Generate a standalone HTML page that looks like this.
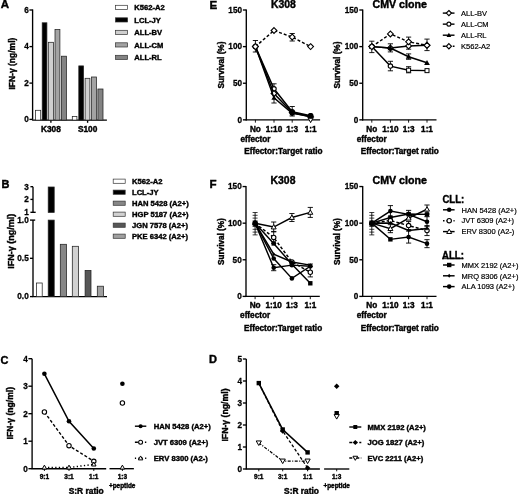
<!DOCTYPE html>
<html><head><meta charset="utf-8"><style>
html,body{margin:0;padding:0;background:#fff;}
body{width:520px;height:494px;overflow:hidden;}
svg{display:block;font-family:"Liberation Sans",sans-serif;filter:blur(0.3px);}
</style></head><body>
<svg width="520" height="494" viewBox="0 0 520 494">
<rect width="520" height="494" fill="#fff"/>
<text x="0.80" y="8.40" font-size="11.5" font-weight="bold" text-anchor="start" stroke="#000" stroke-width="0.4" >A</text>
<line x1="32.60" y1="9.40" x2="32.60" y2="119.80" stroke="#000" stroke-width="1.35" />
<line x1="29.40" y1="10.00" x2="32.60" y2="10.00" stroke="#000" stroke-width="1.35" />
<text transform="translate(28.70,12.85) scale(0.92,1)" font-size="8.9" font-weight="bold" text-anchor="end" stroke="#000" stroke-width="0.3" >6</text>
<line x1="29.40" y1="46.60" x2="32.60" y2="46.60" stroke="#000" stroke-width="1.35" />
<text transform="translate(28.70,49.45) scale(0.92,1)" font-size="8.9" font-weight="bold" text-anchor="end" stroke="#000" stroke-width="0.3" >4</text>
<line x1="29.40" y1="83.10" x2="32.60" y2="83.10" stroke="#000" stroke-width="1.35" />
<text transform="translate(28.70,85.95) scale(0.92,1)" font-size="8.9" font-weight="bold" text-anchor="end" stroke="#000" stroke-width="0.3" >2</text>
<line x1="29.40" y1="119.40" x2="32.60" y2="119.40" stroke="#000" stroke-width="1.35" />
<text transform="translate(28.70,122.25) scale(0.92,1)" font-size="8.9" font-weight="bold" text-anchor="end" stroke="#000" stroke-width="0.3" >0</text>
<line x1="32.10" y1="120.10" x2="106.90" y2="120.10" stroke="#000" stroke-width="1.35" />
<line x1="50.90" y1="120.10" x2="50.90" y2="122.80" stroke="#000" stroke-width="1.35" />
<text x="50.90" y="131.90" font-size="8.3" font-weight="bold" text-anchor="middle" stroke="#000" stroke-width="0.4" >K308</text>
<line x1="87.60" y1="120.10" x2="87.60" y2="122.80" stroke="#000" stroke-width="1.35" />
<text x="87.60" y="131.90" font-size="8.3" font-weight="bold" text-anchor="middle" stroke="#000" stroke-width="0.4" >S100</text>
<rect x="35.60" y="110.30" width="5.10" height="9.80" fill="#ffffff" stroke="#222" stroke-width="0.75"/>
<rect x="42.20" y="22.80" width="4.70" height="97.30" fill="#000000" stroke="#222" stroke-width="0.75"/>
<rect x="48.30" y="42.30" width="5.20" height="77.80" fill="#cfcfcf" stroke="#222" stroke-width="0.75"/>
<rect x="55.00" y="29.50" width="4.90" height="90.60" fill="#a3a3a3" stroke="#222" stroke-width="0.75"/>
<rect x="61.40" y="56.20" width="5.00" height="63.90" fill="#838383" stroke="#222" stroke-width="0.75"/>
<rect x="72.30" y="116.40" width="4.60" height="3.70" fill="#ffffff" stroke="#222" stroke-width="0.75"/>
<rect x="78.80" y="65.90" width="4.70" height="54.20" fill="#000000" stroke="#222" stroke-width="0.75"/>
<rect x="85.10" y="78.30" width="4.80" height="41.80" fill="#cfcfcf" stroke="#222" stroke-width="0.75"/>
<rect x="91.60" y="77.00" width="4.80" height="43.10" fill="#a3a3a3" stroke="#222" stroke-width="0.75"/>
<rect x="97.90" y="89.00" width="5.10" height="31.10" fill="#838383" stroke="#222" stroke-width="0.75"/>
<text transform="translate(14.50,63.60) rotate(-90)" font-size="8.5" font-weight="bold" text-anchor="middle" stroke="#000" stroke-width="0.4">IFN-γ (ng/ml)</text>
<rect x="115.50" y="5.30" width="12.10" height="4.20" fill="#ffffff" stroke="#333" stroke-width="0.7"/>
<text x="134.30" y="10.30" font-size="7.6" font-weight="bold" text-anchor="start" stroke="#000" stroke-width="0.4" >K562-A2</text>
<rect x="115.50" y="17.80" width="12.10" height="4.20" fill="#000000" stroke="#333" stroke-width="0.7"/>
<text x="134.30" y="22.80" font-size="7.6" font-weight="bold" text-anchor="start" stroke="#000" stroke-width="0.4" >LCL-JY</text>
<rect x="115.50" y="30.30" width="12.10" height="4.20" fill="#cfcfcf" stroke="#333" stroke-width="0.7"/>
<text x="134.30" y="35.30" font-size="7.6" font-weight="bold" text-anchor="start" stroke="#000" stroke-width="0.4" >ALL-BV</text>
<rect x="115.50" y="42.80" width="12.10" height="4.20" fill="#a3a3a3" stroke="#333" stroke-width="0.7"/>
<text x="134.30" y="47.80" font-size="7.6" font-weight="bold" text-anchor="start" stroke="#000" stroke-width="0.4" >ALL-CM</text>
<rect x="115.50" y="55.30" width="12.10" height="4.20" fill="#838383" stroke="#333" stroke-width="0.7"/>
<text x="134.30" y="60.30" font-size="7.6" font-weight="bold" text-anchor="start" stroke="#000" stroke-width="0.4" >ALL-RL</text>
<text x="1.60" y="187.60" font-size="11" font-weight="bold" text-anchor="start" stroke="#000" stroke-width="0.4" >B</text>
<line x1="33.00" y1="186.70" x2="33.00" y2="212.40" stroke="#000" stroke-width="1.35" />
<line x1="30.40" y1="186.70" x2="33.00" y2="186.70" stroke="#000" stroke-width="1.35" />
<text transform="translate(28.70,189.55) scale(0.92,1)" font-size="8.9" font-weight="bold" text-anchor="end" stroke="#000" stroke-width="0.3" >3</text>
<line x1="30.40" y1="199.40" x2="33.00" y2="199.40" stroke="#000" stroke-width="1.35" />
<text transform="translate(28.70,202.25) scale(0.92,1)" font-size="8.9" font-weight="bold" text-anchor="end" stroke="#000" stroke-width="0.3" >2</text>
<line x1="30.40" y1="212.30" x2="33.00" y2="212.30" stroke="#000" stroke-width="1.35" />
<text transform="translate(28.70,215.15) scale(0.92,1)" font-size="8.9" font-weight="bold" text-anchor="end" stroke="#000" stroke-width="0.3" >1</text>
<line x1="33.00" y1="212.30" x2="35.70" y2="212.30" stroke="#000" stroke-width="1.35" />
<line x1="33.00" y1="220.10" x2="33.00" y2="296.90" stroke="#000" stroke-width="1.35" />
<line x1="30.00" y1="220.10" x2="33.00" y2="220.10" stroke="#000" stroke-width="1.35" />
<text transform="translate(28.70,222.95) scale(0.92,1)" font-size="8.9" font-weight="bold" text-anchor="end" stroke="#000" stroke-width="0.3" >1.0</text>
<line x1="30.00" y1="258.30" x2="33.00" y2="258.30" stroke="#000" stroke-width="1.35" />
<text transform="translate(28.70,261.15) scale(0.92,1)" font-size="8.9" font-weight="bold" text-anchor="end" stroke="#000" stroke-width="0.3" >0.5</text>
<line x1="30.00" y1="296.60" x2="33.00" y2="296.60" stroke="#000" stroke-width="1.35" />
<text transform="translate(28.70,299.45) scale(0.92,1)" font-size="8.9" font-weight="bold" text-anchor="end" stroke="#000" stroke-width="0.3" >0.0</text>
<line x1="33.00" y1="220.10" x2="35.20" y2="220.10" stroke="#000" stroke-width="1.35" />
<line x1="32.50" y1="296.60" x2="107.00" y2="296.60" stroke="#000" stroke-width="1.35" />
<rect x="36.60" y="283.00" width="5.60" height="13.60" fill="#ffffff" stroke="#222" stroke-width="0.75"/>
<rect x="48.20" y="187.00" width="6.00" height="25.40" fill="#000000" stroke="#222" stroke-width="0.75"/>
<rect x="48.20" y="220.10" width="6.00" height="76.50" fill="#000000" stroke="#222" stroke-width="0.75"/>
<rect x="60.30" y="244.30" width="6.20" height="52.30" fill="#878787" stroke="#222" stroke-width="0.75"/>
<rect x="72.30" y="246.30" width="6.30" height="50.30" fill="#d2d2d2" stroke="#222" stroke-width="0.75"/>
<rect x="85.10" y="270.40" width="5.90" height="26.20" fill="#575757" stroke="#222" stroke-width="0.75"/>
<rect x="97.30" y="286.20" width="6.30" height="10.40" fill="#a0a0a0" stroke="#222" stroke-width="0.75"/>
<text transform="translate(14.20,241.30) rotate(-90)" font-size="9.0" font-weight="bold" text-anchor="middle" stroke="#000" stroke-width="0.4">IFN-γ (ng/ml)</text>
<rect x="113.20" y="179.10" width="12.00" height="4.20" fill="#ffffff" stroke="#333" stroke-width="0.7"/>
<text x="132.00" y="184.00" font-size="7.6" font-weight="bold" text-anchor="start" stroke="#000" stroke-width="0.4" >K562-A2</text>
<rect x="113.20" y="190.10" width="12.00" height="4.20" fill="#000000" stroke="#333" stroke-width="0.7"/>
<text x="132.00" y="195.00" font-size="7.6" font-weight="bold" text-anchor="start" stroke="#000" stroke-width="0.4" >LCL-JY</text>
<rect x="113.20" y="201.10" width="12.00" height="4.20" fill="#878787" stroke="#333" stroke-width="0.7"/>
<text x="132.00" y="206.00" font-size="7.6" font-weight="bold" text-anchor="start" stroke="#000" stroke-width="0.4" >HAN 5428 (A2+)</text>
<rect x="113.20" y="212.10" width="12.00" height="4.20" fill="#d2d2d2" stroke="#333" stroke-width="0.7"/>
<text x="132.00" y="217.00" font-size="7.6" font-weight="bold" text-anchor="start" stroke="#000" stroke-width="0.4" >HGP 5187 (A2+)</text>
<rect x="113.20" y="223.10" width="12.00" height="4.20" fill="#575757" stroke="#333" stroke-width="0.7"/>
<text x="132.00" y="228.00" font-size="7.6" font-weight="bold" text-anchor="start" stroke="#000" stroke-width="0.4" >JGN 7578 (A2+)</text>
<rect x="113.20" y="234.10" width="12.00" height="4.20" fill="#a0a0a0" stroke="#333" stroke-width="0.7"/>
<text x="132.00" y="239.00" font-size="7.6" font-weight="bold" text-anchor="start" stroke="#000" stroke-width="0.4" >PKE 6342 (A2+)</text>
<text x="0.60" y="363.80" font-size="11" font-weight="bold" text-anchor="start" stroke="#000" stroke-width="0.4" >C</text>
<line x1="32.10" y1="358.70" x2="32.10" y2="469.00" stroke="#000" stroke-width="1.35" />
<line x1="28.40" y1="468.70" x2="32.10" y2="468.70" stroke="#000" stroke-width="1.35" />
<text transform="translate(27.80,471.55) scale(0.92,1)" font-size="8.9" font-weight="bold" text-anchor="end" stroke="#000" stroke-width="0.3" >0</text>
<line x1="28.40" y1="441.20" x2="32.10" y2="441.20" stroke="#000" stroke-width="1.35" />
<text transform="translate(27.80,444.05) scale(0.92,1)" font-size="8.9" font-weight="bold" text-anchor="end" stroke="#000" stroke-width="0.3" >1</text>
<line x1="28.40" y1="413.70" x2="32.10" y2="413.70" stroke="#000" stroke-width="1.35" />
<text transform="translate(27.80,416.55) scale(0.92,1)" font-size="8.9" font-weight="bold" text-anchor="end" stroke="#000" stroke-width="0.3" >2</text>
<line x1="28.40" y1="386.20" x2="32.10" y2="386.20" stroke="#000" stroke-width="1.35" />
<text transform="translate(27.80,389.05) scale(0.92,1)" font-size="8.9" font-weight="bold" text-anchor="end" stroke="#000" stroke-width="0.3" >3</text>
<line x1="28.40" y1="358.70" x2="32.10" y2="358.70" stroke="#000" stroke-width="1.35" />
<text transform="translate(27.80,361.55) scale(0.92,1)" font-size="8.9" font-weight="bold" text-anchor="end" stroke="#000" stroke-width="0.3" >4</text>
<line x1="31.60" y1="468.70" x2="106.20" y2="468.70" stroke="#000" stroke-width="1.35" />
<line x1="109.50" y1="468.70" x2="133.90" y2="468.70" stroke="#000" stroke-width="1.35" />
<line x1="44.40" y1="468.70" x2="44.40" y2="471.00" stroke="#000" stroke-width="0.9" />
<line x1="69.00" y1="468.70" x2="69.00" y2="471.00" stroke="#000" stroke-width="0.9" />
<line x1="93.80" y1="468.70" x2="93.80" y2="471.00" stroke="#000" stroke-width="0.9" />
<line x1="122.40" y1="468.70" x2="122.40" y2="471.00" stroke="#000" stroke-width="0.9" />
<text x="44.40" y="479.30" font-size="6.5" font-weight="bold" text-anchor="middle" stroke="#000" stroke-width="0.4" >9:1</text>
<text x="69.00" y="479.30" font-size="6.5" font-weight="bold" text-anchor="middle" stroke="#000" stroke-width="0.4" >3:1</text>
<text x="93.80" y="479.30" font-size="6.5" font-weight="bold" text-anchor="middle" stroke="#000" stroke-width="0.4" >1:1</text>
<text x="122.40" y="479.30" font-size="6.5" font-weight="bold" text-anchor="middle" stroke="#000" stroke-width="0.4" >1:3</text>
<text x="122.20" y="487.80" font-size="6.4" font-weight="bold" text-anchor="middle" stroke="#000" stroke-width="0.4" >+peptide</text>
<text x="86.20" y="494.30" font-size="8.4" font-weight="bold" text-anchor="middle" stroke="#000" stroke-width="0.4" >S:R ratio</text>
<text transform="translate(12.70,413.20) rotate(-90)" font-size="8.6" font-weight="bold" text-anchor="middle" stroke="#000" stroke-width="0.4">IFN-γ (ng/ml)</text>
<polyline points="44.40,373.80 69.00,421.30 93.80,448.50" fill="none" stroke="#000" stroke-width="1.5"/>
<polyline points="44.40,412.00 69.00,445.70 93.80,461.30" fill="none" stroke="#000" stroke-width="1.4" stroke-dasharray="3,2"/>
<polyline points="44.40,467.60 69.00,467.60 93.80,464.30" fill="none" stroke="#000" stroke-width="1.5" stroke-dasharray="1.3,2.3"/>
<circle cx="44.40" cy="373.80" r="2.30" fill="#000"/>
<circle cx="69.00" cy="421.30" r="2.30" fill="#000"/>
<circle cx="93.80" cy="448.50" r="2.30" fill="#000"/>
<circle cx="122.40" cy="383.80" r="2.30" fill="#000"/>
<circle cx="44.40" cy="412.00" r="2.20" fill="#fff" stroke="#000" stroke-width="1.1"/>
<circle cx="69.00" cy="445.70" r="2.20" fill="#fff" stroke="#000" stroke-width="1.1"/>
<circle cx="93.80" cy="461.30" r="2.20" fill="#fff" stroke="#000" stroke-width="1.1"/>
<circle cx="122.40" cy="403.00" r="2.20" fill="#fff" stroke="#000" stroke-width="1.1"/>
<polygon points="44.40,465.15 46.65,469.09 42.15,469.09" fill="#fff" stroke="#000" stroke-width="1"/>
<polygon points="69.00,465.15 71.25,469.09 66.75,469.09" fill="#fff" stroke="#000" stroke-width="1"/>
<polygon points="93.80,462.05 96.05,465.99 91.55,465.99" fill="#fff" stroke="#000" stroke-width="1"/>
<polygon points="122.40,465.15 124.65,469.09 120.15,469.09" fill="#fff" stroke="#000" stroke-width="1"/>
<polyline points="134.90,426.20 146.30,426.20" fill="none" stroke="#000" stroke-width="1.4"/>
<circle cx="140.60" cy="426.20" r="2.07" fill="#000"/>
<text x="153.70" y="428.95" font-size="7.65" font-weight="bold" text-anchor="start" stroke="#000" stroke-width="0.4" >HAN 5428 (A2+)</text>
<polyline points="134.90,442.20 146.30,442.20" fill="none" stroke="#000" stroke-width="1.4" stroke-dasharray="3,2"/>
<circle cx="140.60" cy="442.20" r="1.98" fill="#fff" stroke="#000" stroke-width="1.1"/>
<text x="153.70" y="444.95" font-size="7.65" font-weight="bold" text-anchor="start" stroke="#000" stroke-width="0.4" >JVT 6309 (A2+)</text>
<polyline points="134.90,458.20 146.30,458.20" fill="none" stroke="#000" stroke-width="1.4" stroke-dasharray="1.2,2.2"/>
<polygon points="140.60,455.95 142.85,459.89 138.35,459.89" fill="#fff" stroke="#000" stroke-width="1"/>
<text x="153.70" y="460.95" font-size="7.65" font-weight="bold" text-anchor="start" stroke="#000" stroke-width="0.4" >ERV 8300 (A2-)</text>
<text x="209.00" y="363.30" font-size="11" font-weight="bold" text-anchor="start" stroke="#000" stroke-width="0.4" >D</text>
<line x1="246.30" y1="359.00" x2="246.30" y2="469.20" stroke="#000" stroke-width="1.35" />
<line x1="242.90" y1="469.00" x2="246.30" y2="469.00" stroke="#000" stroke-width="1.35" />
<text transform="translate(242.10,471.85) scale(0.92,1)" font-size="8.9" font-weight="bold" text-anchor="end" stroke="#000" stroke-width="0.3" >0</text>
<line x1="242.90" y1="447.00" x2="246.30" y2="447.00" stroke="#000" stroke-width="1.35" />
<text transform="translate(242.10,449.85) scale(0.92,1)" font-size="8.9" font-weight="bold" text-anchor="end" stroke="#000" stroke-width="0.3" >1</text>
<line x1="242.90" y1="425.00" x2="246.30" y2="425.00" stroke="#000" stroke-width="1.35" />
<text transform="translate(242.10,427.85) scale(0.92,1)" font-size="8.9" font-weight="bold" text-anchor="end" stroke="#000" stroke-width="0.3" >2</text>
<line x1="242.90" y1="403.00" x2="246.30" y2="403.00" stroke="#000" stroke-width="1.35" />
<text transform="translate(242.10,405.85) scale(0.92,1)" font-size="8.9" font-weight="bold" text-anchor="end" stroke="#000" stroke-width="0.3" >3</text>
<line x1="242.90" y1="381.00" x2="246.30" y2="381.00" stroke="#000" stroke-width="1.35" />
<text transform="translate(242.10,383.85) scale(0.92,1)" font-size="8.9" font-weight="bold" text-anchor="end" stroke="#000" stroke-width="0.3" >4</text>
<line x1="242.90" y1="359.00" x2="246.30" y2="359.00" stroke="#000" stroke-width="1.35" />
<text transform="translate(242.10,361.85) scale(0.92,1)" font-size="8.9" font-weight="bold" text-anchor="end" stroke="#000" stroke-width="0.3" >5</text>
<line x1="245.80" y1="469.00" x2="319.90" y2="469.00" stroke="#000" stroke-width="1.35" />
<line x1="324.10" y1="469.00" x2="349.30" y2="469.00" stroke="#000" stroke-width="1.35" />
<line x1="258.80" y1="469.00" x2="258.80" y2="471.30" stroke="#000" stroke-width="0.9" />
<line x1="282.70" y1="469.00" x2="282.70" y2="471.30" stroke="#000" stroke-width="0.9" />
<line x1="307.60" y1="469.00" x2="307.60" y2="471.30" stroke="#000" stroke-width="0.9" />
<line x1="336.70" y1="469.00" x2="336.70" y2="471.30" stroke="#000" stroke-width="0.9" />
<text x="258.80" y="479.30" font-size="6.5" font-weight="bold" text-anchor="middle" stroke="#000" stroke-width="0.4" >9:1</text>
<text x="282.70" y="479.30" font-size="6.5" font-weight="bold" text-anchor="middle" stroke="#000" stroke-width="0.4" >3:1</text>
<text x="307.60" y="479.30" font-size="6.5" font-weight="bold" text-anchor="middle" stroke="#000" stroke-width="0.4" >1:1</text>
<text x="336.70" y="479.30" font-size="6.5" font-weight="bold" text-anchor="middle" stroke="#000" stroke-width="0.4" >1:3</text>
<text x="336.70" y="488.00" font-size="6.4" font-weight="bold" text-anchor="middle" stroke="#000" stroke-width="0.4" >+peptide</text>
<text x="301.50" y="494.30" font-size="8.4" font-weight="bold" text-anchor="middle" stroke="#000" stroke-width="0.4" >S:R ratio</text>
<text transform="translate(228.00,415.00) rotate(-90)" font-size="8.7" font-weight="bold" text-anchor="middle" stroke="#000" stroke-width="0.4">IFN-γ (ng/ml)</text>
<polyline points="258.80,383.10 282.70,429.50 307.60,452.40" fill="none" stroke="#000" stroke-width="1.6"/>
<polyline points="258.80,383.10 282.70,431.00 307.60,468.00" fill="none" stroke="#000" stroke-width="1.3" stroke-dasharray="3,2"/>
<polyline points="258.80,442.90 282.70,461.00 307.60,461.00" fill="none" stroke="#000" stroke-width="1.25" stroke-dasharray="3,1.5,1,1.5"/>
<rect x="256.60" y="380.90" width="4.40" height="4.40" fill="#000"/>
<rect x="280.50" y="427.30" width="4.40" height="4.40" fill="#000"/>
<rect x="305.40" y="450.20" width="4.40" height="4.40" fill="#000"/>
<rect x="334.50" y="411.00" width="4.40" height="4.40" fill="#000"/>
<polygon points="282.70,428.25 285.45,431.00 282.70,433.75 279.94,431.00" fill="#000"/>
<polygon points="307.60,465.25 310.36,468.00 307.60,470.75 304.85,468.00" fill="#000"/>
<polygon points="336.70,383.55 339.45,386.30 336.70,389.06 333.94,386.30" fill="#000"/>
<polygon points="258.80,445.50 261.40,440.95 256.20,440.95" fill="#fff" stroke="#000" stroke-width="1"/>
<polygon points="282.70,463.60 285.30,459.05 280.10,459.05" fill="#fff" stroke="#000" stroke-width="1"/>
<polygon points="307.60,463.60 310.20,459.05 305.00,459.05" fill="#fff" stroke="#000" stroke-width="1"/>
<polygon points="336.70,419.10 339.30,414.55 334.10,414.55" fill="#fff" stroke="#000" stroke-width="1"/>
<polyline points="349.30,427.00 361.30,427.00" fill="none" stroke="#000" stroke-width="1.4"/>
<rect x="353.32" y="425.02" width="3.96" height="3.96" fill="#000"/>
<text x="367.50" y="429.75" font-size="7.65" font-weight="bold" text-anchor="start" stroke="#000" stroke-width="0.4" >MMX 2192 (A2+)</text>
<polyline points="349.30,442.50 361.30,442.50" fill="none" stroke="#000" stroke-width="1.4" stroke-dasharray="3,2"/>
<polygon points="355.30,439.89 357.91,442.50 355.30,445.11 352.69,442.50" fill="#000"/>
<text x="367.50" y="445.25" font-size="7.65" font-weight="bold" text-anchor="start" stroke="#000" stroke-width="0.4" >JOG 1827 (A2+)</text>
<polyline points="349.30,458.00 361.30,458.00" fill="none" stroke="#000" stroke-width="1.4" stroke-dasharray="3,1.5,1,1.5"/>
<polygon points="355.30,460.34 357.64,456.25 352.96,456.25" fill="#fff" stroke="#000" stroke-width="1"/>
<text x="367.50" y="460.75" font-size="7.65" font-weight="bold" text-anchor="start" stroke="#000" stroke-width="0.4" >EVC 2211 (A2+)</text>
<text x="209.60" y="8.90" font-size="11.6" font-weight="bold" text-anchor="start" stroke="#000" stroke-width="0.4" >E</text>
<line x1="246.30" y1="9.40" x2="246.30" y2="120.45" stroke="#000" stroke-width="1.35" />
<line x1="242.90" y1="119.85" x2="246.30" y2="119.85" stroke="#000" stroke-width="1.35" />
<text transform="translate(242.00,122.70) scale(0.92,1)" font-size="8.9" font-weight="bold" text-anchor="end" stroke="#000" stroke-width="0.3" >0</text>
<line x1="242.90" y1="83.23" x2="246.30" y2="83.23" stroke="#000" stroke-width="1.35" />
<text transform="translate(242.00,86.08) scale(0.92,1)" font-size="8.9" font-weight="bold" text-anchor="end" stroke="#000" stroke-width="0.3" >50</text>
<line x1="242.90" y1="46.62" x2="246.30" y2="46.62" stroke="#000" stroke-width="1.35" />
<text transform="translate(242.00,49.47) scale(0.92,1)" font-size="8.9" font-weight="bold" text-anchor="end" stroke="#000" stroke-width="0.3" >100</text>
<line x1="242.90" y1="10.00" x2="246.30" y2="10.00" stroke="#000" stroke-width="1.35" />
<text transform="translate(242.00,12.85) scale(0.92,1)" font-size="8.9" font-weight="bold" text-anchor="end" stroke="#000" stroke-width="0.3" >150</text>
<line x1="245.70" y1="119.85" x2="320.10" y2="119.85" stroke="#000" stroke-width="1.35" />
<line x1="255.40" y1="119.85" x2="255.40" y2="122.65" stroke="#000" stroke-width="0.9" />
<line x1="274.00" y1="119.85" x2="274.00" y2="122.65" stroke="#000" stroke-width="0.9" />
<line x1="292.20" y1="119.85" x2="292.20" y2="122.65" stroke="#000" stroke-width="0.9" />
<line x1="310.60" y1="119.85" x2="310.60" y2="122.65" stroke="#000" stroke-width="0.9" />
<text x="255.40" y="131.90" font-size="8.2" font-weight="bold" text-anchor="middle" stroke="#000" stroke-width="0.4" >No</text>
<text x="274.00" y="131.90" font-size="8.2" font-weight="bold" text-anchor="middle" stroke="#000" stroke-width="0.4" >1:10</text>
<text x="292.20" y="131.90" font-size="8.2" font-weight="bold" text-anchor="middle" stroke="#000" stroke-width="0.4" >1:3</text>
<text x="310.60" y="131.90" font-size="8.2" font-weight="bold" text-anchor="middle" stroke="#000" stroke-width="0.4" >1:1</text>
<text x="255.40" y="141.55" font-size="8.2" font-weight="bold" text-anchor="middle" stroke="#000" stroke-width="0.4" >effector</text>
<text x="283.40" y="154.10" font-size="8.2" font-weight="bold" text-anchor="middle" stroke="#000" stroke-width="0.4" >Effector:Target ratio</text>
<text x="283.30" y="7.50" font-size="10.4" font-weight="bold" text-anchor="middle" stroke="#000" stroke-width="0.4" >K308</text>
<text transform="translate(223.90,65.05) rotate(-90)" font-size="8.2" font-weight="bold" text-anchor="middle" stroke="#000" stroke-width="0.4">Survival (%)</text>
<line x1="255.40" y1="40.50" x2="255.40" y2="52.00" stroke="#000" stroke-width="0.9" />
<line x1="252.80" y1="40.50" x2="258.00" y2="40.50" stroke="#000" stroke-width="0.9" />
<line x1="252.80" y1="52.00" x2="258.00" y2="52.00" stroke="#000" stroke-width="0.9" />
<line x1="274.00" y1="83.80" x2="274.00" y2="103.00" stroke="#000" stroke-width="0.9" />
<line x1="271.40" y1="83.80" x2="276.60" y2="83.80" stroke="#000" stroke-width="0.9" />
<line x1="271.40" y1="103.00" x2="276.60" y2="103.00" stroke="#000" stroke-width="0.9" />
<line x1="292.20" y1="106.50" x2="292.20" y2="116.00" stroke="#000" stroke-width="0.9" />
<line x1="289.60" y1="106.50" x2="294.80" y2="106.50" stroke="#000" stroke-width="0.9" />
<line x1="289.60" y1="116.00" x2="294.80" y2="116.00" stroke="#000" stroke-width="0.9" />
<polyline points="255.40,46.62 274.00,88.80 292.20,111.79 310.60,115.82" fill="none" stroke="#000" stroke-width="1.45"/>
<circle cx="255.40" cy="46.62" r="2.20" fill="#fff" stroke="#000" stroke-width="1.1"/>
<circle cx="274.00" cy="88.80" r="2.20" fill="#fff" stroke="#000" stroke-width="1.1"/>
<circle cx="292.20" cy="111.79" r="2.20" fill="#fff" stroke="#000" stroke-width="1.1"/>
<circle cx="310.60" cy="115.82" r="2.20" fill="#fff" stroke="#000" stroke-width="1.1"/>
<polyline points="255.40,46.62 274.00,93.49 292.20,112.53 310.60,116.92" fill="none" stroke="#000" stroke-width="1.45"/>
<polygon points="255.40,43.72 258.30,46.62 255.40,49.52 252.50,46.62" fill="#fff" stroke="#000" stroke-width="1.1"/>
<polygon points="274.00,90.59 276.90,93.49 274.00,96.39 271.10,93.49" fill="#fff" stroke="#000" stroke-width="1.1"/>
<polygon points="292.20,109.63 295.10,112.53 292.20,115.43 289.30,112.53" fill="#fff" stroke="#000" stroke-width="1.1"/>
<polygon points="310.60,114.02 313.50,116.92 310.60,119.82 307.70,116.92" fill="#fff" stroke="#000" stroke-width="1.1"/>
<polyline points="255.40,46.62 274.00,97.88 292.20,113.26 310.60,116.19" fill="none" stroke="#000" stroke-width="1.45"/>
<polygon points="255.40,44.02 258.00,48.57 252.80,48.57" fill="#000"/>
<polygon points="274.00,95.28 276.60,99.83 271.40,99.83" fill="#000"/>
<polygon points="292.20,110.66 294.80,115.21 289.60,115.21" fill="#000"/>
<polygon points="310.60,113.59 313.20,118.14 308.00,118.14" fill="#000"/>
<polygon points="310.60,122.47 313.07,118.15 308.13,118.15" fill="#fff" stroke="#000" stroke-width="1"/>
<circle cx="292.20" cy="112.70" r="2.76" fill="#000"/>
<circle cx="310.60" cy="115.80" r="2.76" fill="#000"/>
<polyline points="255.40,46.62 274.00,30.51 292.20,37.10 310.60,46.62" fill="none" stroke="#000" stroke-width="1.45" stroke-dasharray="3,2"/>
<line x1="292.20" y1="33.50" x2="292.20" y2="41.00" stroke="#000" stroke-width="0.9" />
<line x1="289.60" y1="33.50" x2="294.80" y2="33.50" stroke="#000" stroke-width="0.9" />
<line x1="289.60" y1="41.00" x2="294.80" y2="41.00" stroke="#000" stroke-width="0.9" />
<polygon points="255.40,43.72 258.30,46.62 255.40,49.52 252.50,46.62" fill="#fff" stroke="#000" stroke-width="1.1"/>
<polygon points="274.00,27.61 276.90,30.51 274.00,33.41 271.10,30.51" fill="#fff" stroke="#000" stroke-width="1.1"/>
<polygon points="292.20,34.20 295.10,37.10 292.20,40.00 289.30,37.10" fill="#fff" stroke="#000" stroke-width="1.1"/>
<polygon points="310.60,43.72 313.50,46.62 310.60,49.52 307.70,46.62" fill="#fff" stroke="#000" stroke-width="1.1"/>
<line x1="362.70" y1="9.40" x2="362.70" y2="120.45" stroke="#000" stroke-width="1.35" />
<line x1="359.30" y1="119.85" x2="362.70" y2="119.85" stroke="#000" stroke-width="1.35" />
<text transform="translate(358.40,122.70) scale(0.92,1)" font-size="8.9" font-weight="bold" text-anchor="end" stroke="#000" stroke-width="0.3" >0</text>
<line x1="359.30" y1="83.23" x2="362.70" y2="83.23" stroke="#000" stroke-width="1.35" />
<text transform="translate(358.40,86.08) scale(0.92,1)" font-size="8.9" font-weight="bold" text-anchor="end" stroke="#000" stroke-width="0.3" >50</text>
<line x1="359.30" y1="46.62" x2="362.70" y2="46.62" stroke="#000" stroke-width="1.35" />
<text transform="translate(358.40,49.47) scale(0.92,1)" font-size="8.9" font-weight="bold" text-anchor="end" stroke="#000" stroke-width="0.3" >100</text>
<line x1="359.30" y1="10.00" x2="362.70" y2="10.00" stroke="#000" stroke-width="1.35" />
<text transform="translate(358.40,12.85) scale(0.92,1)" font-size="8.9" font-weight="bold" text-anchor="end" stroke="#000" stroke-width="0.3" >150</text>
<line x1="362.10" y1="119.85" x2="436.50" y2="119.85" stroke="#000" stroke-width="1.35" />
<line x1="371.80" y1="119.85" x2="371.80" y2="122.65" stroke="#000" stroke-width="0.9" />
<line x1="390.40" y1="119.85" x2="390.40" y2="122.65" stroke="#000" stroke-width="0.9" />
<line x1="408.60" y1="119.85" x2="408.60" y2="122.65" stroke="#000" stroke-width="0.9" />
<line x1="427.00" y1="119.85" x2="427.00" y2="122.65" stroke="#000" stroke-width="0.9" />
<text x="371.80" y="131.90" font-size="8.2" font-weight="bold" text-anchor="middle" stroke="#000" stroke-width="0.4" >No</text>
<text x="390.40" y="131.90" font-size="8.2" font-weight="bold" text-anchor="middle" stroke="#000" stroke-width="0.4" >1:10</text>
<text x="408.60" y="131.90" font-size="8.2" font-weight="bold" text-anchor="middle" stroke="#000" stroke-width="0.4" >1:3</text>
<text x="427.00" y="131.90" font-size="8.2" font-weight="bold" text-anchor="middle" stroke="#000" stroke-width="0.4" >1:1</text>
<text x="371.80" y="141.55" font-size="8.2" font-weight="bold" text-anchor="middle" stroke="#000" stroke-width="0.4" >effector</text>
<text x="399.80" y="154.10" font-size="8.2" font-weight="bold" text-anchor="middle" stroke="#000" stroke-width="0.4" >Effector:Target ratio</text>
<text transform="translate(399.70,7.90) scale(1.025,1)" font-size="10.4" font-weight="bold" text-anchor="middle" stroke="#000" stroke-width="0.4" >CMV clone</text>
<text transform="translate(340.30,65.05) rotate(-90)" font-size="8.2" font-weight="bold" text-anchor="middle" stroke="#000" stroke-width="0.4">Survival (%)</text>
<line x1="371.80" y1="41.20" x2="371.80" y2="52.60" stroke="#000" stroke-width="0.9" />
<line x1="369.20" y1="41.20" x2="374.40" y2="41.20" stroke="#000" stroke-width="0.9" />
<line x1="369.20" y1="52.60" x2="374.40" y2="52.60" stroke="#000" stroke-width="0.9" />
<polyline points="371.80,46.62 390.40,66.10 408.60,70.20 427.00,70.64" fill="none" stroke="#000" stroke-width="1.45"/>
<line x1="390.40" y1="61.30" x2="390.40" y2="70.80" stroke="#000" stroke-width="0.9" />
<line x1="387.80" y1="61.30" x2="393.00" y2="61.30" stroke="#000" stroke-width="0.9" />
<line x1="387.80" y1="70.80" x2="393.00" y2="70.80" stroke="#000" stroke-width="0.9" />
<line x1="408.60" y1="66.70" x2="408.60" y2="72.80" stroke="#000" stroke-width="0.9" />
<line x1="406.00" y1="66.70" x2="411.20" y2="66.70" stroke="#000" stroke-width="0.9" />
<line x1="406.00" y1="72.80" x2="411.20" y2="72.80" stroke="#000" stroke-width="0.9" />
<circle cx="371.80" cy="46.62" r="2.20" fill="#fff" stroke="#000" stroke-width="1.1"/>
<circle cx="390.40" cy="66.10" r="2.20" fill="#fff" stroke="#000" stroke-width="1.1"/>
<rect x="406.60" y="68.20" width="4.00" height="4.00" fill="#fff" stroke="#000" stroke-width="1"/>
<rect x="425.00" y="68.64" width="4.00" height="4.00" fill="#fff" stroke="#000" stroke-width="1"/>
<polyline points="371.80,46.62 390.40,48.01 408.60,45.96 427.00,45.30" fill="none" stroke="#000" stroke-width="1.45"/>
<line x1="390.40" y1="43.80" x2="390.40" y2="51.90" stroke="#000" stroke-width="0.9" />
<line x1="387.80" y1="43.80" x2="393.00" y2="43.80" stroke="#000" stroke-width="0.9" />
<line x1="387.80" y1="51.90" x2="393.00" y2="51.90" stroke="#000" stroke-width="0.9" />
<line x1="408.60" y1="37.10" x2="408.60" y2="49.20" stroke="#000" stroke-width="0.9" />
<line x1="406.00" y1="37.10" x2="411.20" y2="37.10" stroke="#000" stroke-width="0.9" />
<line x1="406.00" y1="49.20" x2="411.20" y2="49.20" stroke="#000" stroke-width="0.9" />
<line x1="427.00" y1="39.10" x2="427.00" y2="50.60" stroke="#000" stroke-width="0.9" />
<line x1="424.40" y1="39.10" x2="429.60" y2="39.10" stroke="#000" stroke-width="0.9" />
<line x1="424.40" y1="50.60" x2="429.60" y2="50.60" stroke="#000" stroke-width="0.9" />
<polygon points="371.80,43.72 374.70,46.62 371.80,49.52 368.90,46.62" fill="#fff" stroke="#000" stroke-width="1.1"/>
<polygon points="390.40,45.11 393.30,48.01 390.40,50.91 387.50,48.01" fill="#fff" stroke="#000" stroke-width="1.1"/>
<polygon points="408.60,43.06 411.50,45.96 408.60,48.86 405.70,45.96" fill="#fff" stroke="#000" stroke-width="1.1"/>
<polygon points="427.00,42.40 429.90,45.30 427.00,48.20 424.10,45.30" fill="#fff" stroke="#000" stroke-width="1.1"/>
<polyline points="371.80,46.62 390.40,48.01 408.60,56.73 427.00,62.80" fill="none" stroke="#000" stroke-width="1.45"/>
<line x1="408.60" y1="53.90" x2="408.60" y2="59.30" stroke="#000" stroke-width="0.9" />
<line x1="406.00" y1="53.90" x2="411.20" y2="53.90" stroke="#000" stroke-width="0.9" />
<line x1="406.00" y1="59.30" x2="411.20" y2="59.30" stroke="#000" stroke-width="0.9" />
<polygon points="371.80,43.76 374.66,48.77 368.94,48.77" fill="#000"/>
<polygon points="390.40,45.15 393.26,50.16 387.54,50.16" fill="#000"/>
<polygon points="408.60,53.87 411.46,58.87 405.74,58.87" fill="#000"/>
<polygon points="427.00,59.94 429.86,64.95 424.14,64.95" fill="#000"/>
<polyline points="371.80,46.62 390.40,33.95 408.60,41.86 427.00,45.30" fill="none" stroke="#000" stroke-width="1.45" stroke-dasharray="3,2"/>
<polygon points="371.80,43.72 374.70,46.62 371.80,49.52 368.90,46.62" fill="#fff" stroke="#000" stroke-width="1.1"/>
<polygon points="390.40,31.05 393.30,33.95 390.40,36.85 387.50,33.95" fill="#fff" stroke="#000" stroke-width="1.1"/>
<polygon points="408.60,38.96 411.50,41.86 408.60,44.76 405.70,41.86" fill="#fff" stroke="#000" stroke-width="1.1"/>
<polygon points="427.00,42.40 429.90,45.30 427.00,48.20 424.10,45.30" fill="#fff" stroke="#000" stroke-width="1.1"/>
<polyline points="442.80,13.10 454.50,13.10" fill="none" stroke="#000" stroke-width="1.4"/>
<polygon points="448.90,10.49 451.51,13.10 448.90,15.71 446.29,13.10" fill="#fff" stroke="#000" stroke-width="1.1"/>
<text x="461.10" y="15.80" font-size="7.5" font-weight="normal" text-anchor="start" stroke="#000" stroke-width="0.2" >ALL-BV</text>
<polyline points="442.80,24.15 454.50,24.15" fill="none" stroke="#000" stroke-width="1.4"/>
<circle cx="448.90" cy="24.15" r="1.98" fill="#fff" stroke="#000" stroke-width="1.1"/>
<text x="461.10" y="26.85" font-size="7.5" font-weight="normal" text-anchor="start" stroke="#000" stroke-width="0.2" >ALL-CM</text>
<polyline points="442.80,35.20 454.50,35.20" fill="none" stroke="#000" stroke-width="1.4"/>
<polygon points="448.90,32.86 451.24,36.96 446.56,36.96" fill="#000"/>
<text x="461.10" y="37.90" font-size="7.5" font-weight="normal" text-anchor="start" stroke="#000" stroke-width="0.2" >ALL-RL</text>
<polyline points="442.80,46.25 454.50,46.25" fill="none" stroke="#000" stroke-width="1.4" stroke-dasharray="3,2"/>
<polygon points="448.90,43.64 451.51,46.25 448.90,48.86 446.29,46.25" fill="#fff" stroke="#000" stroke-width="1.1"/>
<text x="461.10" y="48.95" font-size="7.5" font-weight="normal" text-anchor="start" stroke="#000" stroke-width="0.2" >K562-A2</text>
<text x="209.40" y="187.80" font-size="11.6" font-weight="bold" text-anchor="start" stroke="#000" stroke-width="0.4" >F</text>
<line x1="246.00" y1="185.95" x2="246.00" y2="297.00" stroke="#000" stroke-width="1.35" />
<line x1="242.60" y1="296.40" x2="246.00" y2="296.40" stroke="#000" stroke-width="1.35" />
<text transform="translate(241.70,299.25) scale(0.92,1)" font-size="8.9" font-weight="bold" text-anchor="end" stroke="#000" stroke-width="0.3" >0</text>
<line x1="242.60" y1="259.78" x2="246.00" y2="259.78" stroke="#000" stroke-width="1.35" />
<text transform="translate(241.70,262.63) scale(0.92,1)" font-size="8.9" font-weight="bold" text-anchor="end" stroke="#000" stroke-width="0.3" >50</text>
<line x1="242.60" y1="223.17" x2="246.00" y2="223.17" stroke="#000" stroke-width="1.35" />
<text transform="translate(241.70,226.02) scale(0.92,1)" font-size="8.9" font-weight="bold" text-anchor="end" stroke="#000" stroke-width="0.3" >100</text>
<line x1="242.60" y1="186.55" x2="246.00" y2="186.55" stroke="#000" stroke-width="1.35" />
<text transform="translate(241.70,189.40) scale(0.92,1)" font-size="8.9" font-weight="bold" text-anchor="end" stroke="#000" stroke-width="0.3" >150</text>
<line x1="245.40" y1="296.40" x2="319.80" y2="296.40" stroke="#000" stroke-width="1.35" />
<line x1="255.10" y1="296.40" x2="255.10" y2="299.20" stroke="#000" stroke-width="0.9" />
<line x1="273.70" y1="296.40" x2="273.70" y2="299.20" stroke="#000" stroke-width="0.9" />
<line x1="291.90" y1="296.40" x2="291.90" y2="299.20" stroke="#000" stroke-width="0.9" />
<line x1="310.30" y1="296.40" x2="310.30" y2="299.20" stroke="#000" stroke-width="0.9" />
<text x="255.10" y="308.45" font-size="8.2" font-weight="bold" text-anchor="middle" stroke="#000" stroke-width="0.4" >No</text>
<text x="273.70" y="308.45" font-size="8.2" font-weight="bold" text-anchor="middle" stroke="#000" stroke-width="0.4" >1:10</text>
<text x="291.90" y="308.45" font-size="8.2" font-weight="bold" text-anchor="middle" stroke="#000" stroke-width="0.4" >1:3</text>
<text x="310.30" y="308.45" font-size="8.2" font-weight="bold" text-anchor="middle" stroke="#000" stroke-width="0.4" >1:1</text>
<text x="255.10" y="318.10" font-size="8.2" font-weight="bold" text-anchor="middle" stroke="#000" stroke-width="0.4" >effector</text>
<text x="283.10" y="330.65" font-size="8.2" font-weight="bold" text-anchor="middle" stroke="#000" stroke-width="0.4" >Effector:Target ratio</text>
<text x="283.00" y="184.05" font-size="10.4" font-weight="bold" text-anchor="middle" stroke="#000" stroke-width="0.4" >K308</text>
<text transform="translate(223.60,241.60) rotate(-90)" font-size="8.2" font-weight="bold" text-anchor="middle" stroke="#000" stroke-width="0.4">Survival (%)</text>
<line x1="255.10" y1="212.50" x2="255.10" y2="234.90" stroke="#000" stroke-width="0.9" />
<line x1="252.60" y1="212.50" x2="257.60" y2="212.50" stroke="#000" stroke-width="0.75" />
<line x1="252.60" y1="215.30" x2="257.60" y2="215.30" stroke="#000" stroke-width="0.75" />
<line x1="252.60" y1="218.10" x2="257.60" y2="218.10" stroke="#000" stroke-width="0.75" />
<line x1="252.60" y1="220.90" x2="257.60" y2="220.90" stroke="#000" stroke-width="0.75" />
<line x1="252.60" y1="226.50" x2="257.60" y2="226.50" stroke="#000" stroke-width="0.75" />
<line x1="252.60" y1="229.30" x2="257.60" y2="229.30" stroke="#000" stroke-width="0.75" />
<line x1="252.60" y1="232.10" x2="257.60" y2="232.10" stroke="#000" stroke-width="0.75" />
<line x1="252.60" y1="234.90" x2="257.60" y2="234.90" stroke="#000" stroke-width="0.75" />
<line x1="310.30" y1="264.00" x2="310.30" y2="276.90" stroke="#000" stroke-width="0.9" />
<line x1="307.70" y1="264.00" x2="312.90" y2="264.00" stroke="#000" stroke-width="0.9" />
<line x1="307.70" y1="276.90" x2="312.90" y2="276.90" stroke="#000" stroke-width="0.9" />
<polyline points="255.10,223.17 273.70,227.05 291.90,217.53 310.30,212.41" fill="none" stroke="#000" stroke-width="1.45"/>
<line x1="273.70" y1="222.00" x2="273.70" y2="231.90" stroke="#000" stroke-width="0.9" />
<line x1="271.10" y1="222.00" x2="276.30" y2="222.00" stroke="#000" stroke-width="0.9" />
<line x1="271.10" y1="231.90" x2="276.30" y2="231.90" stroke="#000" stroke-width="0.9" />
<line x1="291.90" y1="213.53" x2="291.90" y2="221.53" stroke="#000" stroke-width="0.9" />
<line x1="289.30" y1="213.53" x2="294.50" y2="213.53" stroke="#000" stroke-width="0.9" />
<line x1="289.30" y1="221.53" x2="294.50" y2="221.53" stroke="#000" stroke-width="0.9" />
<line x1="310.30" y1="207.41" x2="310.30" y2="217.41" stroke="#000" stroke-width="0.9" />
<line x1="307.70" y1="207.41" x2="312.90" y2="207.41" stroke="#000" stroke-width="0.9" />
<line x1="307.70" y1="217.41" x2="312.90" y2="217.41" stroke="#000" stroke-width="0.9" />
<polygon points="255.10,220.67 257.60,225.04 252.60,225.04" fill="#fff" stroke="#000" stroke-width="1"/>
<polygon points="273.70,224.55 276.20,228.93 271.20,228.93" fill="#fff" stroke="#000" stroke-width="1"/>
<polygon points="291.90,215.03 294.40,219.41 289.40,219.41" fill="#fff" stroke="#000" stroke-width="1"/>
<polygon points="310.30,209.91 312.80,214.28 307.80,214.28" fill="#fff" stroke="#000" stroke-width="1"/>
<polyline points="255.10,223.17 273.70,237.45 291.90,261.98 310.30,272.23" fill="none" stroke="#000" stroke-width="1.45" stroke-dasharray="3,2"/>
<line x1="273.70" y1="231.45" x2="273.70" y2="243.45" stroke="#000" stroke-width="0.9" />
<line x1="271.10" y1="231.45" x2="276.30" y2="231.45" stroke="#000" stroke-width="0.9" />
<line x1="271.10" y1="243.45" x2="276.30" y2="243.45" stroke="#000" stroke-width="0.9" />
<circle cx="255.10" cy="223.17" r="2.20" fill="#fff" stroke="#000" stroke-width="1.1"/>
<circle cx="273.70" cy="237.45" r="2.20" fill="#fff" stroke="#000" stroke-width="1.1"/>
<circle cx="291.90" cy="261.98" r="2.20" fill="#fff" stroke="#000" stroke-width="1.1"/>
<circle cx="310.30" cy="272.23" r="2.20" fill="#fff" stroke="#000" stroke-width="1.1"/>
<polyline points="255.10,223.17 273.70,243.45 291.90,264.18 310.30,283.29" fill="none" stroke="#000" stroke-width="1.45"/>
<rect x="252.90" y="220.97" width="4.40" height="4.40" fill="#000"/>
<rect x="271.50" y="241.25" width="4.40" height="4.40" fill="#000"/>
<rect x="289.70" y="261.98" width="4.40" height="4.40" fill="#000"/>
<rect x="308.10" y="281.09" width="4.40" height="4.40" fill="#000"/>
<polyline points="255.10,223.17 273.70,254.15 291.90,261.98 310.30,265.13" fill="none" stroke="#000" stroke-width="1.45"/>
<polygon points="255.10,221.17 256.70,223.17 255.10,225.17 253.50,223.17" fill="#000"/>
<polygon points="273.70,252.15 275.30,254.15 273.70,256.15 272.10,254.15" fill="#000"/>
<polygon points="291.90,259.98 293.50,261.98 291.90,263.98 290.30,261.98" fill="#000"/>
<polygon points="310.30,263.13 311.90,265.13 310.30,267.13 308.70,265.13" fill="#000"/>
<polyline points="255.10,223.17 273.70,258.47 291.90,278.39 310.30,266.23" fill="none" stroke="#000" stroke-width="1.45"/>
<circle cx="255.10" cy="223.17" r="2.30" fill="#000"/>
<circle cx="273.70" cy="258.47" r="2.30" fill="#000"/>
<circle cx="291.90" cy="278.39" r="2.30" fill="#000"/>
<circle cx="310.30" cy="266.23" r="2.30" fill="#000"/>
<polyline points="255.10,223.17 273.70,267.69 291.90,265.13 310.30,266.23" fill="none" stroke="#000" stroke-width="1.45"/>
<line x1="273.70" y1="264.69" x2="273.70" y2="270.69" stroke="#000" stroke-width="0.9" />
<line x1="271.10" y1="264.69" x2="276.30" y2="264.69" stroke="#000" stroke-width="0.9" />
<line x1="271.10" y1="270.69" x2="276.30" y2="270.69" stroke="#000" stroke-width="0.9" />
<circle cx="255.10" cy="223.17" r="2.30" fill="#000"/>
<circle cx="273.70" cy="267.69" r="2.30" fill="#000"/>
<circle cx="291.90" cy="265.13" r="2.30" fill="#000"/>
<circle cx="310.30" cy="266.23" r="2.30" fill="#000"/>
<line x1="362.70" y1="185.95" x2="362.70" y2="297.00" stroke="#000" stroke-width="1.35" />
<line x1="359.30" y1="296.40" x2="362.70" y2="296.40" stroke="#000" stroke-width="1.35" />
<text transform="translate(358.40,299.25) scale(0.92,1)" font-size="8.9" font-weight="bold" text-anchor="end" stroke="#000" stroke-width="0.3" >0</text>
<line x1="359.30" y1="259.78" x2="362.70" y2="259.78" stroke="#000" stroke-width="1.35" />
<text transform="translate(358.40,262.63) scale(0.92,1)" font-size="8.9" font-weight="bold" text-anchor="end" stroke="#000" stroke-width="0.3" >50</text>
<line x1="359.30" y1="223.17" x2="362.70" y2="223.17" stroke="#000" stroke-width="1.35" />
<text transform="translate(358.40,226.02) scale(0.92,1)" font-size="8.9" font-weight="bold" text-anchor="end" stroke="#000" stroke-width="0.3" >100</text>
<line x1="359.30" y1="186.55" x2="362.70" y2="186.55" stroke="#000" stroke-width="1.35" />
<text transform="translate(358.40,189.40) scale(0.92,1)" font-size="8.9" font-weight="bold" text-anchor="end" stroke="#000" stroke-width="0.3" >150</text>
<line x1="362.10" y1="296.40" x2="436.50" y2="296.40" stroke="#000" stroke-width="1.35" />
<line x1="371.80" y1="296.40" x2="371.80" y2="299.20" stroke="#000" stroke-width="0.9" />
<line x1="390.40" y1="296.40" x2="390.40" y2="299.20" stroke="#000" stroke-width="0.9" />
<line x1="408.60" y1="296.40" x2="408.60" y2="299.20" stroke="#000" stroke-width="0.9" />
<line x1="427.00" y1="296.40" x2="427.00" y2="299.20" stroke="#000" stroke-width="0.9" />
<text x="371.80" y="308.45" font-size="8.2" font-weight="bold" text-anchor="middle" stroke="#000" stroke-width="0.4" >No</text>
<text x="390.40" y="308.45" font-size="8.2" font-weight="bold" text-anchor="middle" stroke="#000" stroke-width="0.4" >1:10</text>
<text x="408.60" y="308.45" font-size="8.2" font-weight="bold" text-anchor="middle" stroke="#000" stroke-width="0.4" >1:3</text>
<text x="427.00" y="308.45" font-size="8.2" font-weight="bold" text-anchor="middle" stroke="#000" stroke-width="0.4" >1:1</text>
<text x="371.80" y="318.10" font-size="8.2" font-weight="bold" text-anchor="middle" stroke="#000" stroke-width="0.4" >effector</text>
<text x="399.80" y="330.65" font-size="8.2" font-weight="bold" text-anchor="middle" stroke="#000" stroke-width="0.4" >Effector:Target ratio</text>
<text transform="translate(399.70,184.45) scale(1.025,1)" font-size="10.4" font-weight="bold" text-anchor="middle" stroke="#000" stroke-width="0.4" >CMV clone</text>
<text transform="translate(340.30,241.60) rotate(-90)" font-size="8.2" font-weight="bold" text-anchor="middle" stroke="#000" stroke-width="0.4">Survival (%)</text>
<line x1="371.80" y1="212.50" x2="371.80" y2="234.90" stroke="#000" stroke-width="0.9" />
<line x1="369.30" y1="212.50" x2="374.30" y2="212.50" stroke="#000" stroke-width="0.75" />
<line x1="369.30" y1="215.30" x2="374.30" y2="215.30" stroke="#000" stroke-width="0.75" />
<line x1="369.30" y1="218.10" x2="374.30" y2="218.10" stroke="#000" stroke-width="0.75" />
<line x1="369.30" y1="220.90" x2="374.30" y2="220.90" stroke="#000" stroke-width="0.75" />
<line x1="369.30" y1="226.50" x2="374.30" y2="226.50" stroke="#000" stroke-width="0.75" />
<line x1="369.30" y1="229.30" x2="374.30" y2="229.30" stroke="#000" stroke-width="0.75" />
<line x1="369.30" y1="232.10" x2="374.30" y2="232.10" stroke="#000" stroke-width="0.75" />
<line x1="369.30" y1="234.90" x2="374.30" y2="234.90" stroke="#000" stroke-width="0.75" />
<polyline points="371.80,223.17 390.40,211.09 408.60,214.38 427.00,221.71" fill="none" stroke="#000" stroke-width="1.45"/>
<line x1="390.40" y1="205.60" x2="390.40" y2="217.00" stroke="#000" stroke-width="0.9" />
<line x1="387.80" y1="205.60" x2="393.00" y2="205.60" stroke="#000" stroke-width="0.9" />
<line x1="387.80" y1="217.00" x2="393.00" y2="217.00" stroke="#000" stroke-width="0.9" />
<line x1="408.60" y1="210.38" x2="408.60" y2="218.38" stroke="#000" stroke-width="0.9" />
<line x1="406.00" y1="210.38" x2="411.20" y2="210.38" stroke="#000" stroke-width="0.9" />
<line x1="406.00" y1="218.38" x2="411.20" y2="218.38" stroke="#000" stroke-width="0.9" />
<line x1="427.00" y1="216.71" x2="427.00" y2="226.71" stroke="#000" stroke-width="0.9" />
<line x1="424.40" y1="216.71" x2="429.60" y2="216.71" stroke="#000" stroke-width="0.9" />
<line x1="424.40" y1="226.71" x2="429.60" y2="226.71" stroke="#000" stroke-width="0.9" />
<circle cx="371.80" cy="223.17" r="2.30" fill="#000"/>
<circle cx="390.40" cy="211.09" r="2.30" fill="#000"/>
<circle cx="408.60" cy="214.38" r="2.30" fill="#000"/>
<circle cx="427.00" cy="221.71" r="2.30" fill="#000"/>
<polyline points="371.80,223.17 390.40,217.46 408.60,214.09 427.00,214.38" fill="none" stroke="#000" stroke-width="1.45"/>
<line x1="427.00" y1="205.00" x2="427.00" y2="214.00" stroke="#000" stroke-width="0.9" />
<line x1="424.40" y1="205.00" x2="429.60" y2="205.00" stroke="#000" stroke-width="0.9" />
<line x1="424.40" y1="214.00" x2="429.60" y2="214.00" stroke="#000" stroke-width="0.9" />
<rect x="369.60" y="220.97" width="4.40" height="4.40" fill="#000"/>
<rect x="388.20" y="215.26" width="4.40" height="4.40" fill="#000"/>
<rect x="406.40" y="211.89" width="4.40" height="4.40" fill="#000"/>
<rect x="424.80" y="212.18" width="4.40" height="4.40" fill="#000"/>
<polyline points="371.80,223.17 390.40,220.53 408.60,225.59 427.00,230.57" fill="none" stroke="#000" stroke-width="1.45" stroke-dasharray="3,2"/>
<line x1="408.60" y1="221.59" x2="408.60" y2="229.59" stroke="#000" stroke-width="0.9" />
<line x1="406.00" y1="221.59" x2="411.20" y2="221.59" stroke="#000" stroke-width="0.9" />
<line x1="406.00" y1="229.59" x2="411.20" y2="229.59" stroke="#000" stroke-width="0.9" />
<line x1="427.00" y1="225.57" x2="427.00" y2="235.57" stroke="#000" stroke-width="0.9" />
<line x1="424.40" y1="225.57" x2="429.60" y2="225.57" stroke="#000" stroke-width="0.9" />
<line x1="424.40" y1="235.57" x2="429.60" y2="235.57" stroke="#000" stroke-width="0.9" />
<circle cx="371.80" cy="223.17" r="2.20" fill="#fff" stroke="#000" stroke-width="1.1"/>
<circle cx="390.40" cy="220.53" r="2.20" fill="#fff" stroke="#000" stroke-width="1.1"/>
<circle cx="408.60" cy="225.59" r="2.20" fill="#fff" stroke="#000" stroke-width="1.1"/>
<circle cx="427.00" cy="230.57" r="2.20" fill="#fff" stroke="#000" stroke-width="1.1"/>
<polyline points="371.80,223.17 390.40,228.66 408.60,218.19 427.00,209.26" fill="none" stroke="#000" stroke-width="1.45"/>
<line x1="390.40" y1="224.66" x2="390.40" y2="232.66" stroke="#000" stroke-width="0.9" />
<line x1="387.80" y1="224.66" x2="393.00" y2="224.66" stroke="#000" stroke-width="0.9" />
<line x1="387.80" y1="232.66" x2="393.00" y2="232.66" stroke="#000" stroke-width="0.9" />
<polygon points="371.80,220.67 374.30,225.04 369.30,225.04" fill="#fff" stroke="#000" stroke-width="1"/>
<polygon points="390.40,226.16 392.90,230.54 387.90,230.54" fill="#fff" stroke="#000" stroke-width="1"/>
<polygon points="408.60,215.69 411.10,220.07 406.10,220.07" fill="#fff" stroke="#000" stroke-width="1"/>
<polygon points="427.00,206.76 429.50,211.13 424.50,211.13" fill="#fff" stroke="#000" stroke-width="1"/>
<polyline points="371.80,223.17 390.40,223.02 408.60,230.49 427.00,228.59" fill="none" stroke="#000" stroke-width="1.45"/>
<polygon points="371.80,221.17 373.40,223.17 371.80,225.17 370.20,223.17" fill="#000"/>
<polygon points="390.40,221.02 392.00,223.02 390.40,225.02 388.80,223.02" fill="#000"/>
<polygon points="408.60,228.49 410.20,230.49 408.60,232.49 407.00,230.49" fill="#000"/>
<polygon points="427.00,226.59 428.60,228.59 427.00,230.59 425.40,228.59" fill="#000"/>
<polyline points="371.80,223.17 390.40,239.35 408.60,237.08 427.00,243.67" fill="none" stroke="#000" stroke-width="1.45"/>
<line x1="408.60" y1="231.08" x2="408.60" y2="243.08" stroke="#000" stroke-width="0.9" />
<line x1="406.00" y1="231.08" x2="411.20" y2="231.08" stroke="#000" stroke-width="0.9" />
<line x1="406.00" y1="243.08" x2="411.20" y2="243.08" stroke="#000" stroke-width="0.9" />
<line x1="427.00" y1="239.67" x2="427.00" y2="247.67" stroke="#000" stroke-width="0.9" />
<line x1="424.40" y1="239.67" x2="429.60" y2="239.67" stroke="#000" stroke-width="0.9" />
<line x1="424.40" y1="247.67" x2="429.60" y2="247.67" stroke="#000" stroke-width="0.9" />
<circle cx="371.80" cy="223.17" r="2.30" fill="#000"/>
<rect x="388.20" y="237.15" width="4.40" height="4.40" fill="#000"/>
<circle cx="408.60" cy="237.08" r="2.30" fill="#000"/>
<circle cx="427.00" cy="243.67" r="2.30" fill="#000"/>
<text transform="translate(442.40,203.20) scale(0.93,1)" font-size="10.3" font-weight="bold" text-anchor="start" stroke="#000" stroke-width="0.4" >CLL:</text>
<polyline points="443.00,209.80 454.60,209.80" fill="none" stroke="#000" stroke-width="1.45"/>
<circle cx="449.20" cy="209.80" r="2.30" fill="#000"/>
<text x="461.50" y="212.50" font-size="7.5" font-weight="normal" text-anchor="start" stroke="#000" stroke-width="0.2" >HAN 5428 (A2+)</text>
<polyline points="443.00,220.70 454.60,220.70" fill="none" stroke="#000" stroke-width="1.45" stroke-dasharray="1.5,2"/>
<circle cx="449.20" cy="220.70" r="2.20" fill="#fff" stroke="#000" stroke-width="1.1"/>
<text x="461.50" y="223.40" font-size="7.5" font-weight="normal" text-anchor="start" stroke="#000" stroke-width="0.2" >JVT 6309 (A2+)</text>
<polyline points="443.00,231.60 454.60,231.60" fill="none" stroke="#000" stroke-width="1.45"/>
<polygon points="449.20,229.10 451.70,233.48 446.70,233.48" fill="#fff" stroke="#000" stroke-width="1"/>
<text x="461.50" y="234.30" font-size="7.5" font-weight="normal" text-anchor="start" stroke="#000" stroke-width="0.2" >ERV 8300 (A2-)</text>
<text transform="translate(442.10,258.80) scale(0.93,1)" font-size="10.3" font-weight="bold" text-anchor="start" stroke="#000" stroke-width="0.4" >ALL:</text>
<line x1="442.40" y1="258.70" x2="463.60" y2="258.70" stroke="#000" stroke-width="0.9" />
<polyline points="443.00,265.00 454.60,265.00" fill="none" stroke="#000" stroke-width="1.45"/>
<rect x="447.00" y="262.80" width="4.40" height="4.40" fill="#000"/>
<text x="461.50" y="267.70" font-size="7.5" font-weight="normal" text-anchor="start" stroke="#000" stroke-width="0.2" >MMX 2192 (A2+)</text>
<polyline points="443.00,275.80 454.60,275.80" fill="none" stroke="#000" stroke-width="1.45"/>
<polygon points="449.20,273.80 450.80,275.80 449.20,277.80 447.60,275.80" fill="#000"/>
<text x="461.50" y="278.50" font-size="7.5" font-weight="normal" text-anchor="start" stroke="#000" stroke-width="0.2" >MRQ 8306 (A2+)</text>
<polyline points="443.00,286.60 454.60,286.60" fill="none" stroke="#000" stroke-width="1.45"/>
<circle cx="449.20" cy="286.60" r="2.30" fill="#000"/>
<text x="461.50" y="289.30" font-size="7.5" font-weight="normal" text-anchor="start" stroke="#000" stroke-width="0.2" >ALA 1093 (A2+)</text>
</svg>
</body></html>
